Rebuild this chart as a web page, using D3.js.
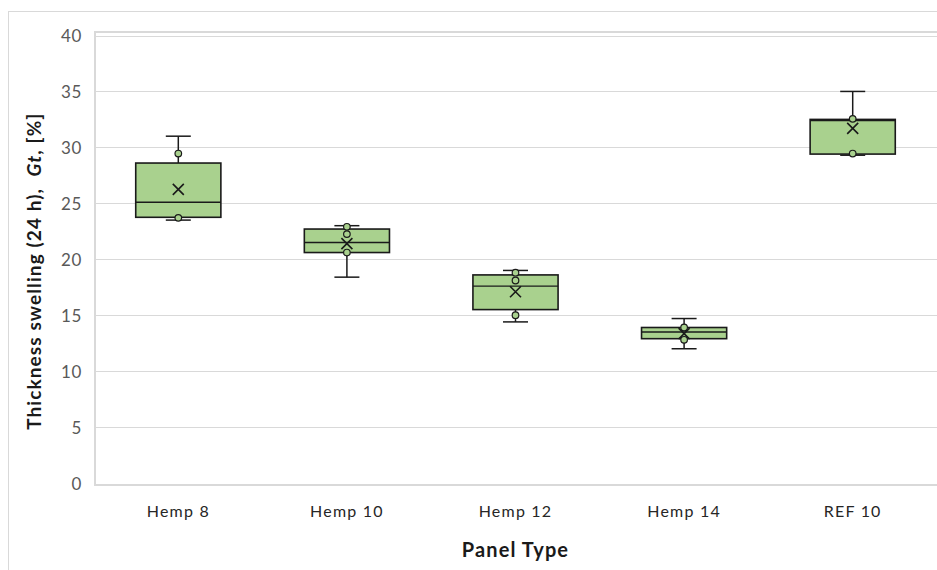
<!DOCTYPE html>
<html>
<head>
<meta charset="utf-8">
<script src="https://cdn.jsdelivr.net/npm/d3@7"></script>
<style>
  html, body { margin: 0; padding: 0; background: #ffffff; }
  svg { display: block; }
</style>
</head>
<body>
<svg id="chart" width="937" height="570"></svg>
<script>
// Thickness swelling after 24 h, per panel type (box & whisker summary)
const categories  = ["Hemp 8", "Hemp 10", "Hemp 12", "Hemp 14", "REF 10"];
const whiskerLow  = [23.5, 18.4, 14.4, 12.0, 29.3];
const quartile1   = [23.75, 20.6, 15.5, 12.9, 29.4];
const medians     = [25.1, 21.5, 17.6, 13.5, 32.4];
const quartile3   = [28.6, 22.7, 18.6, 13.9, 32.5];
const whiskerHigh = [31.0, 23.0, 19.0, 14.7, 35.0];
const means       = [26.25, 21.4, 17.1, 13.35, 31.7];
const innerPoints = [
  [29.45, 23.7],
  [22.9, 22.25, 20.6],
  [18.8, 18.1, 15.0],
  [13.9, 12.8],
  [32.55, 29.45]
];
const yTicks = [0, 5, 10, 15, 20, 25, 30, 35, 40];

const svg = d3.select("#chart");
const fontFamily = "Lato, 'Open Sans', sans-serif";
const fill = "#a9d18e";
const ink = "#1a1a1a";

const plot = { left: 94, right: 937, top: 35.5, bottom: 483 };

const x = d3.scaleBand().domain(categories).range([plot.left, plot.right]).paddingInner(0).paddingOuter(0);
const y = d3.scaleLinear().domain([0, 40]).range([plot.bottom, plot.top]);

// outer chart border
svg.append("rect")
  .attr("x", 8.5).attr("y", 11.5).attr("width", 960).attr("height", 600)
  .attr("fill", "none").attr("stroke", "#d9d9d9").attr("stroke-width", 1);

// plot area frame
svg.append("rect")
  .attr("x", 95).attr("y", 32).attr("width", 860).attr("height", 453)
  .attr("fill", "none").attr("stroke", "#d9d9d9").attr("stroke-width", 2);

// horizontal gridlines
svg.append("g").selectAll("line").data(yTicks.filter(d => d > 0)).join("line")
  .attr("x1", 96).attr("x2", plot.right)
  .attr("y1", d => Math.round(y(d)) + 0.5).attr("y2", d => Math.round(y(d)) + 0.5)
  .attr("stroke", "#d9d9d9").attr("stroke-width", 1);

// y axis labels
const yAxis = d3.axisLeft(y).tickValues(yTicks).tickSize(0).tickPadding(0);
const yg = svg.append("g").attr("transform", "translate(82,0)").call(yAxis);
yg.select(".domain").remove();
yg.selectAll("text")
  .attr("font-family", fontFamily).attr("font-size", 17).attr("fill", "#595959")
  .attr("letter-spacing", 0.6)
  .attr("dy", "0.36em");

// x axis labels
const xAxis = d3.axisBottom(x).tickSize(0).tickPadding(0);
const xg = svg.append("g").attr("transform", "translate(0,517)").call(xAxis);
xg.select(".domain").remove();
xg.selectAll("text")
  .attr("font-family", fontFamily).attr("font-size", 16).attr("fill", "#262626")
  .attr("letter-spacing", 1.2)
  .attr("y", 0).attr("dy", 0);

// boxes
const boxW = x.bandwidth() * 0.505;
const capW = 25;
const rows = categories.map((c, i) => ({
  c, lo: whiskerLow[i], q1: quartile1[i], med: medians[i], q3: quartile3[i],
  hi: whiskerHigh[i], mean: means[i], pts: innerPoints[i]
}));

const g = svg.append("g");
rows.forEach(d => {
  const cx = x(d.c) + x.bandwidth() / 2;
  const grp = g.append("g");
  // whiskers
  grp.append("line").attr("x1", cx).attr("x2", cx).attr("y1", y(d.q3)).attr("y2", y(d.hi))
    .attr("stroke", ink).attr("stroke-width", 1.5);
  grp.append("line").attr("x1", cx).attr("x2", cx).attr("y1", y(d.q1)).attr("y2", y(d.lo))
    .attr("stroke", ink).attr("stroke-width", 1.5);
  grp.append("line").attr("x1", cx - capW / 2).attr("x2", cx + capW / 2).attr("y1", y(d.hi)).attr("y2", y(d.hi))
    .attr("stroke", ink).attr("stroke-width", 1.5);
  grp.append("line").attr("x1", cx - capW / 2).attr("x2", cx + capW / 2).attr("y1", y(d.lo)).attr("y2", y(d.lo))
    .attr("stroke", ink).attr("stroke-width", 1.5);
  // box
  grp.append("rect")
    .attr("x", cx - boxW / 2).attr("y", y(d.q3))
    .attr("width", boxW).attr("height", y(d.q1) - y(d.q3))
    .attr("fill", fill).attr("stroke", ink).attr("stroke-width", 1.6);
  // median
  grp.append("line").attr("x1", cx - boxW / 2).attr("x2", cx + boxW / 2)
    .attr("y1", y(d.med)).attr("y2", y(d.med))
    .attr("stroke", ink).attr("stroke-width", 1.4);
  // inner points
  grp.selectAll("circle").data(d.pts).join("circle")
    .attr("cx", cx).attr("cy", v => y(v)).attr("r", 3.3)
    .attr("fill", fill).attr("stroke", ink).attr("stroke-width", 1.2);
  // mean marker
  const s = 5.5, my = y(d.mean);
  grp.append("path")
    .attr("d", `M${cx - s},${my - s}L${cx + s},${my + s}M${cx - s},${my + s}L${cx + s},${my - s}`)
    .attr("stroke", ink).attr("stroke-width", 1.6).attr("fill", "none");
});

// axis titles
svg.append("text")
  .attr("transform", `translate(41,${(y(0) + y(40)) / 2 + 12}) rotate(-90)`)
  .attr("text-anchor", "middle")
  .style("white-space", "pre")
  .attr("font-family", fontFamily).attr("font-size", 19).attr("font-weight", "bold").attr("fill", "#1a1a1a")
  .attr("letter-spacing", 1.1)
  .call(t => {
    t.append("tspan").text("Thickness swelling (24 h),  ");
    t.append("tspan").attr("font-style", "italic").text("Gt");
    t.append("tspan").text(", [%]");
  });

svg.append("text")
  .attr("x", (plot.left + plot.right) / 2).attr("y", 557)
  .attr("text-anchor", "middle")
  .attr("font-family", fontFamily).attr("font-size", 20).attr("font-weight", "bold").attr("fill", "#1a1a1a")
  .attr("letter-spacing", 1.1)
  .text("Panel Type");
</script>
</body>
</html>
